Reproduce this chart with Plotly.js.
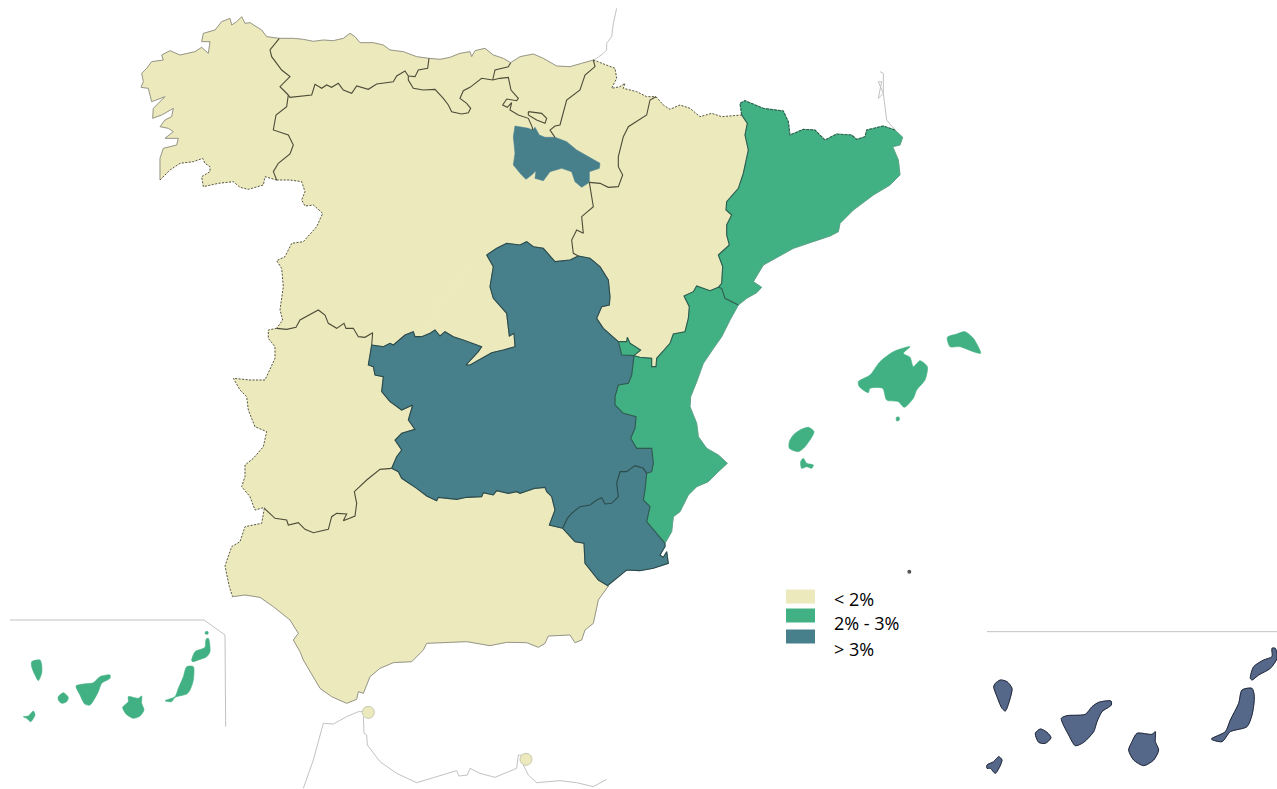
<!DOCTYPE html>
<html>
<head>
<meta charset="utf-8">
<script src="https://cdn.plot.ly/plotly-3.0.1.min.js"></script>
<style>html,body{margin:0;padding:0;background:#fff}#chart{width:1277px;height:789px}</style>
</head>
<body>
<div id="chart"></div>
<script>
function t(ox, oy, a) { var r = []; for (var i = 0; i < a.length; i += 2) r.push([ox + a[i] / 3, oy + a[i + 1] / 3]); return r; }
function rev(a) { return a.slice().reverse(); }
function join() { return Array.prototype.concat.apply([], arguments); }

// --- shared border segments ---
var gCoast = t(130,0,[448,115,410,110,395,90,360,68,345,70,335,50,320,65,305,75,300,55,275,65,255,90,220,100,215,125,240,125,235,160,215,142,195,155,150,165,120,152,95,165,100,180,65,185,50,205,35,220,40,245,33,262,55,265,65,305,105,290,70,325,68,355,95,345,130,325,125,350,105,360,90,380,115,385,130,395,105,415,145,415,140,435,100,445,90,475,90,540]);
var gPort = t(130,0,[90,540,120,510,150,490,190,485,218,475,225,490,240,500,240,515,215,530,220,560,265,550,310,545,330,562,355,568,400,555,405,530,440,540]);
var gCyl = t(130,0,[440,540,430,515,445,490,480,462,490,435,475,405,430,390,438,345,470,320,475,285]);
var gAst = t(130,0,[475,285,450,260,480,230,455,210,425,170,420,150,448,115]);
var aCoast = t(130,0,[448,115,490,115,520,118,550,124,580,120,610,122,640,115,660,100,675,110,690,128,730,128,760,135,780,150,820,155,860,170,897,175]);
var astCant = t(130,0,[897,175,893,205,865,210,855,230,835,228]);
var astCyl = t(130,0,[835,228,825,213,800,228,790,245,740,252,715,268,680,258,665,280,640,270,625,250,605,262,590,255,575,265,555,253,545,285,510,288,480,292,475,285]);
var cCoast = t(130,0,[897,175,930,178,960,172,990,160,1020,155,1025,170,1035,152,1065,145,1090,165,1120,175,1142,188]);
var cantBasque = t(130,0,[1142,188,1135,200,1095,210,1088,240]);
var cantCyl = t(130,0,[1088,240,1055,235,1020,262,1000,272,990,295,1010,310,1022,325,1015,338,995,342,965,335,955,315,940,295,915,268,880,270,850,265,835,240,835,228]);
var basqueCyl = join(t(130,0,[1088,240,1110,235,1135,232,1143,270,1165,295,1160,302,1130,297,1118,315,1132,322,1145,308,1140,330,1165,345,1195,355]), t(500,50,[97,232,98,240]));
var bCoast = t(500,50,[32,38,60,20,100,12,130,25,170,48,210,50,245,40,280,30]);
var basqueNav = t(500,50,[280,30,285,50,255,75,240,120,200,150,190,185,180,225,165,228,150,240,165,262]);
var basqueRioja = t(500,50,[165,262,135,262,118,255,105,232,98,240]);
var enclave = t(500,50,[85,185,125,190,140,205,135,220,110,210,85,195,85,185]);
var navFr = t(500,50,[280,30,345,55,350,85,335,115,360,110,375,100,370,115,410,125,440,140,468,140]);
var navAra = t(500,50,[468,140,450,150,440,195,410,215,385,230,370,260,355,320,355,350,368,375,355,410,325,412,300,400,268,397]);
var navRioja = t(500,50,[268,397,268,365,298,355,300,340,265,320,230,300,200,275,165,262]);
var riojaCyl = t(500,50,[98,240,85,235,45,228,40,260,45,310,40,345,65,375,78,388,95,375,108,362,105,385,130,392,150,365,185,355,215,365,225,395,245,412,268,397]);
var araCyl = t(500,50,[268,397,275,440,280,470,245,500,250,550,230,540,215,570,220,610,235,618]);
var araFr = t(500,50,[468,140,490,165,510,178,540,165,570,175,600,200,635,190,665,200,725,195]);
var araCat = t(500,50,[725,195,742,220,735,255,745,300,730,370,715,415,680,455,678,480,695,495,680,525,680,555,688,585,655,615,668,650,665,700,655,712]);
var araVal = join(t(500,50,[655,712,630,722,590,708,580,725,552,738,568,770,565,805,555,845,520,852]), t(480,300,[570,130,530,175,528,200,515,200,515,175,480,172,462,167]));
var araAde = t(480,300,[462,167,482,150,450,130,442,112,440,125,415,125]);
var clmAra = join(t(500,50,[235,618,270,625,300,650,325,690,330,740,328,765,305,770,290,805,310,835]), t(480,300,[415,125]));
var clmAde = t(480,300,[415,125,425,165,462,167]);
var clmVal = t(480,300,[462,167,460,180,455,225,445,250,415,255,405,290,405,315,430,340,468,350,465,385,452,415,470,445,515,445,520,490,515,515,500,520]);
var clmTop = join(t(220,230,[800,75,830,55,860,40,900,45]), t(500,50,[80,575,100,590,130,595,165,635,210,630,235,618]));
var murClm = t(480,300,[500,520,490,505,465,497,440,515,420,515,410,550,415,590,395,610,375,612,365,593,350,600,330,615,300,620,275,640,262,655,248,685]);
var clmAnd = join(t(480,300,[248,685]), t(220,460,[988,195,1005,150,995,110,980,95,975,82,945,85,900,100,890,95,865,100,830,92,820,105,790,98,785,110,740,112,710,118,655,112,650,122,620,108,590,85,545,55,535,35,515,25]));
var clmExt = t(220,230,[515,715,530,680,545,660,525,630,545,610,585,598,565,570,578,525,545,540,510,515,485,485,490,440,465,435,460,410,445,405,455,345]);
var clmCyl = t(220,230,[455,345,490,350,510,340,520,345,555,315,580,305,585,320,605,320]);
var clmMad = t(220,230,[605,320,630,310,645,300,660,318,675,305,700,320,730,330,785,350,775,365,745,395,738,405,750,405,785,385,815,368,850,360,885,350,882,310,868,318,860,250,820,205,810,170,820,110,800,75]);
var madCyl = t(220,230,[605,320,615,290,640,270,650,235,660,212,680,205,695,170,720,165,730,130,760,105,800,75]);
var extCyl = t(220,230,[455,345,458,308,435,322,415,320,400,295,378,295,372,280,350,295,325,280,315,255,295,240,265,255,240,270,228,292,200,298,170,295]);
var cylPort = join(t(130,0,[440,540,480,540,515,545,525,575,515,600,525,618,550,615,578,640,560,680,520,725]), t(220,230,[250,35,215,40,195,80,170,92,185,115,190,170,180,240,188,270,170,295]));
var extPort = t(220,230,[170,295,145,300,145,325,165,350,165,385,150,415,135,450,90,450,40,445,60,480,80,500,85,540,105,590,140,605,130,650,100,685,75,705,75,740,65,770,90,800,105,840,135,832]);
var extAnd = t(220,460,[133,145,165,175,200,180,205,195,235,188,255,208,280,218,325,208,335,170,350,160,380,162,370,182,405,168,410,130,403,95,440,60,480,28,515,25]);
var andPort = t(220,460,[133,145,125,190,75,200,60,245,35,260,15,318,28,380,38,410]);
var andCoast = t(220,460,[38,410,75,405,120,412,160,440,210,480,235,520,220,540,240,575,250,600,265,625,300,685,335,710,380,730,410,718,415,695,430,700,450,650,480,625,520,608,575,605,610,570,620,550,680,548,740,545,810,557,860,547,920,548,955,562,975,550,985,528,1050,525,1065,548,1085,540,1095,510,1120,490,1135,420,1165,378]);
var murAnd = t(220,460,[1028,205,1065,245,1092,250,1095,310,1135,360,1165,378]);
var murCoast = t(480,300,[385,855,420,825,440,810,480,812,520,805,565,790,560,755,550,772,540,765,555,740,555,730]);
var valMur = t(480,300,[555,730,525,695,500,665,510,620,490,600,495,570,500,520]);
var valCoast = t(480,300,[775,15,750,60,725,110,700,145,670,190,650,245,632,290,630,320,650,370,655,410,680,445,715,465,742,490,715,515,685,545,650,560,625,585,600,635,580,650,575,695,555,730]);
var catVal = t(500,50,[655,712,665,715,675,745,715,765]);
var catFr = t(500,50,[725,195,720,160,735,152,790,175,850,183,865,215,870,255,910,238,945,240,975,270,1010,252,1055,255,1070,268,1095,260,1100,240,1150,228,1185,240]);
var catCoast = t(500,50,[1185,240,1208,262,1200,285,1178,290,1195,330,1200,375,1170,405,1120,435,1060,480,1020,520,1015,545,990,558,930,578,880,595,835,620,790,645,760,695,785,712,770,728,740,745,715,765]);

// --- regions built from the shared segments ---
var galicia = join(gCoast, gPort, gCyl, gAst);
var asturias = join(aCoast, astCant, astCyl, gAst);
var cantabria = join(cCoast, cantBasque, cantCyl, rev(astCant));
var paisVasco = join(bCoast, basqueNav, basqueRioja, rev(basqueCyl), rev(cantBasque));
var navarra = join(navFr, navAra, navRioja, rev(basqueNav));
var laRioja = join(riojaCyl, navRioja, basqueRioja);
var aragon = join(araFr, araCat, araVal, araAde, rev(clmAra), rev(araCyl), rev(navAra));
var castillaLeon = join(gCyl, rev(astCyl), rev(cantCyl), basqueCyl, riojaCyl, araCyl, rev(clmTop), rev(madCyl), rev(clmCyl), extCyl, rev(cylPort));
var madrid = join(madCyl, rev(clmMad));
var castillaMancha = join(clmTop, clmAra, clmAde, clmVal, murClm, clmAnd, clmExt, clmCyl, clmMad);
var extremadura = join(extCyl, extPort, extAnd, clmExt);
var andalucia = join(extAnd, rev(clmAnd), murAnd, rev(andCoast), rev(andPort));
var murcia = join(murClm, murAnd, murCoast, valMur);
var valencia = join(araVal, clmVal, rev(valMur), rev(valCoast), rev(catVal));
var ademuz = join(rev(araAde), clmAde);
var cataluna = join(catFr, catCoast, rev(catVal), rev(araCat));

var balearics = [
  t(770,320,[265,185,300,165,330,125,370,95,420,80,400,100,420,112,430,140,450,122,472,140,465,180,440,210,430,235,403,262,385,245,350,240,338,205,300,205,295,218,268,200]),
  t(770,320,[532,52,560,42,585,35,610,55,632,100,610,95,570,80,540,80]),
  t(770,320,[70,345,90,330,115,322,132,335,105,380,85,395,58,385,58,365]),
  t(770,320,[92,425,100,415,110,430,130,435,125,445,110,440,95,445]),
  t(770,320,[379,292,387,291,388,300,380,303])
];
var canLeft = [
  t(0,610,[95,155,120,150,125,165,125,190,115,212,105,195,95,170]),
  t(0,610,[175,260,190,248,205,262,200,275,185,280,175,270]),
  t(0,610,[228,228,250,222,280,218,300,200,330,195,330,205,305,220,295,245,270,285,255,283,240,255]),
  t(0,610,[385,260,415,265,425,258,425,280,432,300,420,318,400,325,378,312,368,292,385,275]),
  t(0,610,[560,170,580,170,580,210,570,240,560,252,525,262,515,275,495,272,525,260,535,235,550,200]),
  t(0,610,[625,85,630,125,620,140,595,150,580,155,575,152,585,125,615,112,618,88]),
  t(0,610,[616,65,624,65,624,72,616,72]),
  t(0,610,[70,320,85,318,100,303,105,315,92,335,80,325])
];
var canRight = [
  t(977,625,[55,175,70,165,90,170,105,190,98,225,85,258,75,250,60,215,50,185]),
  t(977,625,[175,325,190,312,210,322,222,338,205,355,185,352]),
  t(977,625,[253,280,270,272,325,268,345,245,365,232,402,228,403,240,375,260,360,290,350,320,320,352,295,362,275,330]),
  t(977,625,[480,325,525,328,535,320,535,350,545,375,530,405,500,422,470,405,455,375,465,350]),
  t(977,625,[795,195,825,190,832,215,825,270,810,305,760,320,735,350,703,342,745,320,760,285,785,235]),
  t(977,625,[885,70,895,70,900,100,880,130,845,150,825,165,820,160,830,125,860,105,885,95]),
  t(977,625,[30,420,50,410,65,395,75,405,55,445,40,430,30,430])
];

// --- thin reference lines ---
var franceEast = t(500,50,[1185,240,1160,210,1150,130,1135,145,1145,95,1135,95,1150,130,1150,70,1140,65]);
var franceWest = t(500,50,[280,30,290,25,310,10,320,0]).concat(t(590,0,[50,130,65,110,70,70,80,25]));
var moroccoA = t(220,460,[250,985,280,900,310,790,340,792,380,770,415,755,430,755]);
var moroccoB = t(220,460,[430,770,432,820,440,825,442,855,480,905,530,940,590,968,650,950,710,932,717,948,742,945,750,925,780,940,825,952,890,925,895,885,905,885]);
var moroccoC = t(220,460,[910,915,925,945,950,968,1020,962,1070,968,1120,980,1160,958]);
var insetLeft = t(0,610,[30,30,612,30,675,75,677,350]);
var insetRight = t(977,625,[30,20,900,20]);
var enclaves = t(220,460,[445,757,918,898]);
var tinyIsle = t(770,560,[418,35]);

// --- legend ---
var legendLabels = ['< 2%', '2% - 3%', '> 3%'];
var legendTop = [589.5, 608.5, 629.5];
var legendBottom = [603.5, 622.5, 643.5];
var legendTextY = [598.5, 623, 649];

var YEL = '#ece9bd', GRN = '#41b082', TEA = '#477f8b', NAV = '#56688a';
var mainlandGroups = [
  {color: YEL, items: [galicia, asturias, cantabria, paisVasco, navarra, aragon, castillaLeon, madrid, extremadura, andalucia]},
  {color: GRN, items: [cataluna, valencia, ademuz]},
  {color: TEA, items: [laRioja, castillaMancha, murcia]}
];

function lineXY(list) {
  var x = [], y = [];
  list.forEach(function (s) { s.forEach(function (p) { x.push(p[0]); y.push(p[1]); }); x.push(null); y.push(null); });
  return {x: x, y: y};
}
function fillTrace(pts, color, round) {
  var l = lineXY([pts.concat([pts[0]])]);
  return {type: 'scatter', mode: 'lines', x: l.x, y: l.y, fill: 'toself', fillcolor: color,
          line: {color: color, width: 0.6, shape: round ? 'spline' : 'linear', smoothing: 0.7}, hoverinfo: 'skip', showlegend: false};
}
function strokeTrace(list, color, width, dash, round) {
  var l = lineXY(list);
  return {type: 'scatter', mode: 'lines', x: l.x, y: l.y,
          line: {color: color, width: width, dash: dash || 'solid', shape: round ? 'spline' : 'linear', smoothing: 0.7},
          hoverinfo: 'skip', showlegend: false, connectgaps: false};
}

var traces = [];
traces.push(strokeTrace([franceEast, franceWest, moroccoA, moroccoB, moroccoC, insetLeft, insetRight], '#c2c2c2', 1));
mainlandGroups.forEach(function (g) { g.items.forEach(function (p) { traces.push(fillTrace(p, g.color)); }); });
balearics.concat(canLeft).forEach(function (p) { traces.push(fillTrace(p, GRN, true)); });
canRight.forEach(function (p) { traces.push(fillTrace(p, NAV, true)); });
traces.push(strokeTrace([gCoast, aCoast, cCoast, bCoast, andCoast], '#96968a', 1));
traces.push(strokeTrace([gCyl, gAst, astCant, astCyl, cantBasque, cantCyl, basqueCyl, basqueNav, enclave, navAra, araCyl, extCyl, extAnd], '#4c4c38', 1.1));
traces.push(strokeTrace([gPort, cylPort, extPort, andPort, navFr, araFr], '#55554c', 1, '2px,1.5px'));
traces.push(strokeTrace([catFr], '#2f5e4e', 1.1, '3px,1px'));
traces.push(strokeTrace([araCat, araVal, araAde, clmAde, clmVal, catVal, valMur], '#2f5b50', 1.1));
traces.push(strokeTrace([clmTop, clmAra, clmAnd, clmExt, clmCyl, clmMad, murClm, murAnd, murCoast], '#2c4a4a', 1.1));
traces.push(strokeTrace([catCoast, valCoast], '#5f9c85', 0.8));
traces.push(strokeTrace(canRight.map(function (p) { return p.concat([p[0]]); }), '#22283a', 1, 'solid', true));
traces.push({type: 'scatter', mode: 'markers', x: enclaves.map(function (p) { return p[0]; }), y: enclaves.map(function (p) { return p[1]; }),
  marker: {size: 12, color: YEL, line: {color: '#c8c8b0', width: 1}}, hoverinfo: 'skip', showlegend: false});
traces.push({type: 'scatter', mode: 'markers', x: [tinyIsle[0][0]], y: [tinyIsle[0][1]],
  marker: {size: 4, color: '#555'}, hoverinfo: 'skip', showlegend: false});

var swatchColors = [YEL, GRN, TEA];
var shapes = legendLabels.map(function (_, i) {
  return {type: 'rect', xref: 'x', yref: 'y', x0: 786, x1: 815, y0: legendTop[i], y1: legendBottom[i],
          fillcolor: swatchColors[i], line: {width: 0}};
});
var annotations = legendLabels.map(function (s, i) {
  return {xref: 'x', yref: 'y', x: 832, y: legendTextY[i], text: s.replace('<', '&lt;').replace('>', '&gt;'), showarrow: false, xanchor: 'left', yanchor: 'middle',
          font: {family: '"Open Sans", sans-serif', size: 18, color: '#000'}};
});

var axis = {visible: false, fixedrange: true, showgrid: false, zeroline: false};
Plotly.newPlot('chart', traces, {
  width: 1277, height: 789, margin: {l: 0, r: 0, t: 0, b: 0},
  paper_bgcolor: '#fff', plot_bgcolor: '#fff', showlegend: false,
  xaxis: Object.assign({range: [0, 1277]}, axis),
  yaxis: Object.assign({range: [789, 0]}, axis),
  shapes: shapes, annotations: annotations
}, {displayModeBar: false, staticPlot: true});
</script>
</body>
</html>
